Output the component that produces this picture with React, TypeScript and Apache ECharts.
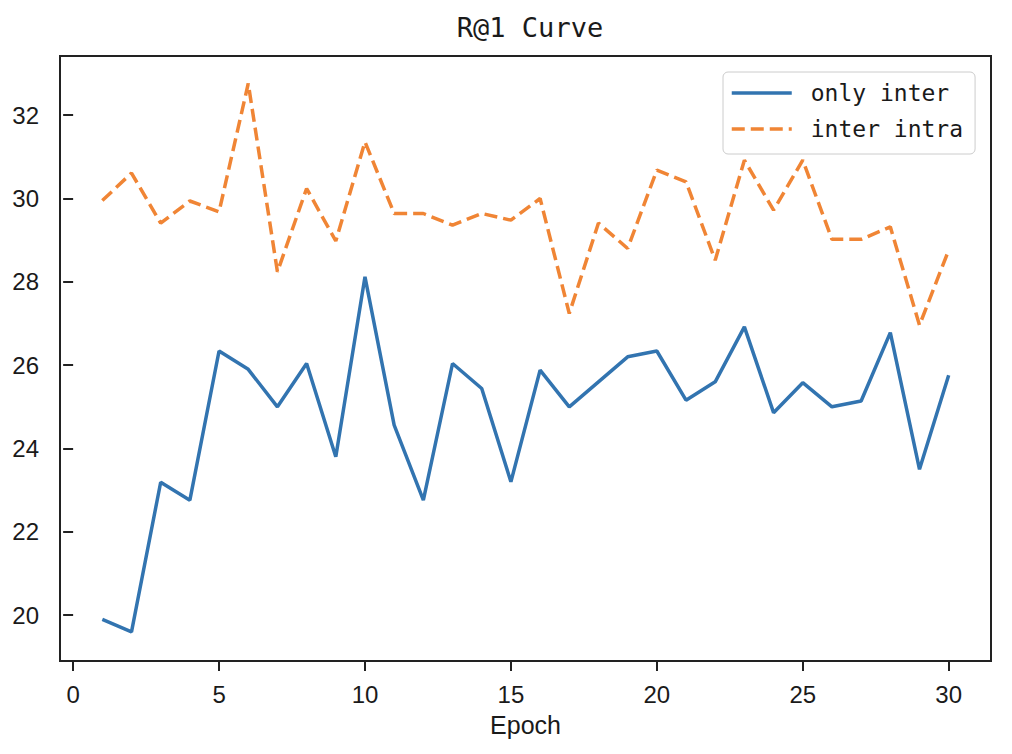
import React, { useEffect, useRef } from "react";
import * as echarts from "echarts";

const epochs = [1,2,3,4,5,6,7,8,9,10,11,12,13,14,15,16,17,18,19,20,21,22,23,24,25,26,27,28,29,30];
const onlyInter = [19.9,19.6,23.19,22.76,26.34,25.9,25.0,26.04,23.8,28.12,24.56,22.76,26.04,25.44,23.2,25.88,25.0,25.6,26.2,26.34,25.16,25.6,26.92,24.86,25.58,25.0,25.14,26.78,23.5,25.76];
const interIntra = [29.95,30.61,29.41,29.94,29.68,32.76,28.24,30.24,28.98,31.36,29.64,29.64,29.36,29.64,29.48,30.0,27.24,29.41,28.8,30.68,30.4,28.52,30.92,29.72,30.92,29.02,29.02,29.32,26.96,28.76];
const xTicks = [0,5,10,15,20,25,30];
const yTicks = [20,22,24,26,28,30,32];
const seriesNames = ["only inter", "inter intra"];

const sansNarrow = "'Liberation Sans Narrow', 'Liberation Sans', Arial, sans-serif";
const mono = "'DejaVu Sans Mono', monospace";

export default function App() {
  const ref = useRef<HTMLDivElement>(null);
  useEffect(() => {
    if (!ref.current) return;
    const chart = echarts.init(ref.current, null, { renderer: "svg" });
    const axisCommon = {
      type: "value" as const,
      axisLine: { show: false },
      splitLine: { show: false },
      axisTick: { show: true, inside: false, length: 10, lineStyle: { color: "#222", width: 2 } },
      axisLabel: { color: "#1a1a1a", fontSize: 24, fontFamily: sansNarrow },
    };
    chart.setOption({
      animation: false,
      backgroundColor: "#ffffff",
      title: {
        text: "R@1 Curve",
        left: 525,
        textAlign: "center",
        top: 9,
        textStyle: { fontFamily: mono, fontSize: 27, fontWeight: "normal", color: "#1a1a1a" },
      },
      legend: {
        orient: "vertical",
        left: 723,
        top: 72,
        padding: [8, 12, 12, 7],
        itemWidth: 60,
        itemHeight: 1,
        itemGap: 10,
        itemStyle: { opacity: 0 },
        lineStyle: { width: 3.5 },
        borderColor: "#cccccc",
        borderWidth: 1,
        borderRadius: 5,
        backgroundColor: "rgba(255,255,255,0.85)",
        textStyle: { fontFamily: mono, fontSize: 23, color: "#1a1a1a", lineHeight: 26, padding: [0, 0, 0, 14] },
        data: seriesNames,
      },
      grid: {
        left: 60,
        right: 21,
        top: 56,
        bottom: 93,
        show: true,
        borderColor: "#222",
        borderWidth: 2,
        backgroundColor: "transparent",
        containLabel: false,
      },
      xAxis: {
        ...axisCommon,
        min: -0.45,
        max: 31.45,
        name: "Epoch",
        nameLocation: "middle",
        nameGap: 51,
        nameTextStyle: { color: "#1a1a1a", fontSize: 25, fontFamily: sansNarrow },
        axisTick: { ...axisCommon.axisTick, customValues: xTicks },
        axisLabel: { ...axisCommon.axisLabel, margin: 21, customValues: xTicks },
      },
      yAxis: {
        ...axisCommon,
        min: 18.9,
        max: 33.42,
        axisTick: { ...axisCommon.axisTick, customValues: yTicks },
        axisLabel: { ...axisCommon.axisLabel, margin: 21, customValues: yTicks },
      },
      series: [
        {
          name: seriesNames[0],
          type: "line",
          data: epochs.map((e, i) => [e, onlyInter[i]]),
          symbol: "none",
          lineStyle: { color: "#3274b0", width: 3.5 },
          itemStyle: { color: "#3274b0" },
        },
        {
          name: seriesNames[1],
          type: "line",
          data: epochs.map((e, i) => [e, interIntra[i]]),
          symbol: "none",
          lineStyle: { color: "#f08535", width: 3.5, type: [13, 6] },
          itemStyle: { color: "#f08535" },
        },
      ],
    });
    return () => chart.dispose();
  }, []);
  return <div ref={ref} style={{ width: 1012, height: 754, position: "absolute", left: 0, top: 0 }} />;
}
